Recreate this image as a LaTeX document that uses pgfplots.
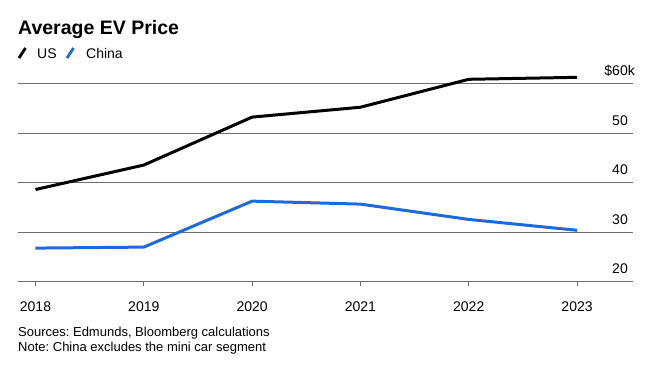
\documentclass[border=0pt]{standalone}
\usepackage{fontspec}
\setmainfont{Liberation Sans}
\usepackage{pgfplots}
\pgfplotsset{compat=1.18}
\definecolor{cnblue}{RGB}{30,106,218}
\definecolor{gridgray}{RGB}{110,110,110}
\frenchspacing
\begin{document}
\begin{tikzpicture}
\useasboundingbox (0,0) rectangle (662pt,-365pt);
\node[anchor=base west, inner sep=0pt, font=\fontsize{19.5}{22}\selectfont\bfseries] at (18pt,-34pt) {Average EV Price};
\draw[line width=2.8pt, black] (19pt,-58pt) -- (25.5pt,-48pt);
\node[anchor=base west, inner sep=0pt, font=\fontsize{14}{16}\selectfont] at (37pt,-58.3pt) {US};
\draw[line width=2.8pt, cnblue] (67pt,-58pt) -- (73.5pt,-48pt);
\node[anchor=base west, inner sep=0pt, font=\fontsize{14}{16}\selectfont] at (86pt,-58.3pt) {China};
\begin{axis}[
  at={(17.5pt,-281.7pt)}, anchor=south west,
  scale only axis, width=615pt, height=207.6pt,
  xmin=-0.166, xmax=5.512, ymin=20, ymax=62, clip=false,
  axis x line*=bottom, axis y line*=right,
  x axis line style={draw=gridgray, line width=1.5pt, -},
  y axis line style={draw=none},
  xtick={0,1,2,3,4,5},
  xticklabels={2018,2019,2020,2021,2022,2023},
  ytick={20,30,40,50,60},
  yticklabels={20,30,40,50,\llap{\$}60\rlap{k}},
  ymajorgrids, grid style={gridgray, line width=1pt},
  xtick style={draw=gridgray, line width=1pt},
  ytick style={draw=none},
  tick align=outside, major tick length=4.5pt,
  xticklabel style={anchor=base, inner sep=0pt, yshift=-25pt},
  yticklabel style={anchor=base east, inner sep=0pt, xshift=-9pt, yshift=8pt},
  tick label style={font=\fontsize{14}{16}\selectfont},
  /pgf/number format/assume math mode=true,
]
\addplot[black, line width=3pt, line join=round, line cap=butt] coordinates {
  (0,38.65) (1,43.6) (2,53.3) (3,55.3) (4,60.95) (5,61.35)};
\addplot[cnblue, line width=3pt, line join=round, line cap=butt] coordinates {
  (0,26.8) (1,27.0) (2,36.3) (3,35.7) (4,32.6) (5,30.4)};
\end{axis}
\node[anchor=base west, inner sep=0pt, font=\fontsize{13}{15}\selectfont] at (18pt,-336pt) {Sources: Edmunds, Bloomberg calculations};
\node[anchor=base west, inner sep=0pt, font=\fontsize{13}{15}\selectfont] at (18pt,-351pt) {Note: China excludes the mini car segment};
\end{tikzpicture}
\end{document}
